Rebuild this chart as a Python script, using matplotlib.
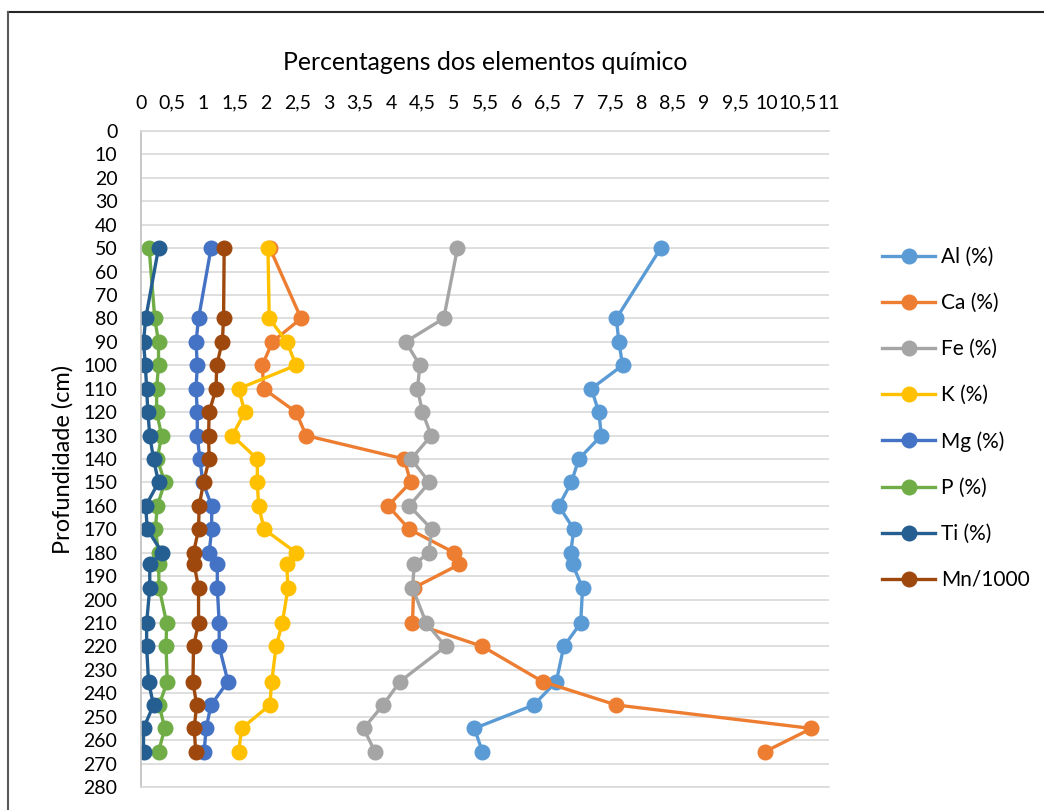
import matplotlib
matplotlib.use("Agg")
import matplotlib.pyplot as plt
from matplotlib.ticker import MultipleLocator, FuncFormatter
from matplotlib.lines import Line2D

plt.rcParams['font.family'] = ['Lato', 'DejaVu Sans']

# depth (cm) of each sample
depth = [50, 80, 90, 100, 110, 120, 130, 140, 150, 160,
         170, 180, 185, 195, 210, 220, 235, 245, 255, 265]

al = [8.31, 7.60, 7.64, 7.70, 7.20, 7.32, 7.36, 7.00, 6.88, 6.68,
      6.92, 6.87, 6.90, 7.06, 7.03, 6.76, 6.64, 6.28, 5.33, 5.46]
ca = [2.06, 2.56, 2.10, 1.94, 1.96, 2.48, 2.64, 4.21, 4.31, 3.95,
      4.29, 5.01, 5.09, 4.36, 4.34, 5.46, 6.42, 7.60, 10.72, 9.97]
fe = [5.06, 4.84, 4.23, 4.46, 4.42, 4.50, 4.64, 4.32, 4.61, 4.29,
      4.65, 4.60, 4.37, 4.34, 4.56, 4.87, 4.14, 3.87, 3.56, 3.74]
k = [2.03, 2.05, 2.33, 2.48, 1.56, 1.66, 1.46, 1.86, 1.86, 1.88,
     1.97, 2.48, 2.33, 2.35, 2.26, 2.16, 2.09, 2.06, 1.61, 1.56]
mg = [1.12, 0.92, 0.88, 0.90, 0.88, 0.90, 0.90, 0.94, 0.99, 1.13,
      1.13, 1.09, 1.22, 1.22, 1.25, 1.25, 1.39, 1.12, 1.04, 1.01]
p = [0.13, 0.22, 0.28, 0.28, 0.25, 0.25, 0.33, 0.26, 0.38, 0.26,
     0.23, 0.28, 0.28, 0.29, 0.41, 0.40, 0.42, 0.29, 0.38, 0.28]
ti = [0.28, 0.075, 0.04, 0.07, 0.09, 0.11, 0.14, 0.20, 0.28, 0.075,
      0.10, 0.34, 0.14, 0.14, 0.09, 0.09, 0.12, 0.20, 0.04, 0.04]
mn = [1.33, 1.32, 1.30, 1.21, 1.20, 1.09, 1.08, 1.09, 1.00, 0.93,
      0.92, 0.84, 0.85, 0.92, 0.92, 0.84, 0.83, 0.89, 0.85, 0.875]

labels = ['Al (%)', 'Ca (%)', 'Fe (%)', 'K (%)', 'Mg (%)', 'P (%)', 'Ti (%)', 'Mn/1000']
colors = ['#5B9BD5', '#ED7D31', '#A5A5A5', '#FFC000', '#4472C4', '#70AD47', '#255E91', '#9E480E']
series = [al, ca, fe, k, mg, p, ti, mn]

fig = plt.figure(figsize=[10.44, 8.1], dpi=100)
ax = fig.add_axes([141 / 1044, 1 - 787 / 810, (829 - 141) / 1044, (787 - 131) / 810])

for vals, lab, col in zip(series, labels, colors):
    ax.plot(vals, depth, color=col, lw=2.4, marker='o', ms=10.5, label=lab)

ax.set_xlim(0, 11)
ax.set_ylim(280, 0)
ax.xaxis.set_major_locator(MultipleLocator(0.5))
ax.yaxis.set_major_locator(MultipleLocator(10))
ax.xaxis.set_major_formatter(FuncFormatter(lambda v, pos: f"{v:g}".replace('.', ',')))
ax.xaxis.tick_top()
ax.tick_params(axis='x', length=0, pad=14, labelsize=14)
ax.tick_params(axis='y', length=0, pad=17, labelsize=14)
ax.yaxis.grid(True, color='#D9D9D9', lw=1.2)
ax.set_axisbelow(True)
for side in ['top', 'bottom']:
    ax.spines[side].set_color('#D9D9D9')
    ax.spines[side].set_linewidth(1.2)
ax.spines['right'].set_visible(False)
ax.spines['left'].set_color('#BFBFBF')
ax.spines['left'].set_linewidth(1.2)

ax.set_ylabel('Profundidade (cm)', fontsize=17, labelpad=7)
fig.text(485 / 1044, 1 - 63 / 810, 'Percentagens dos elementos químico',
         fontsize=17.8, ha='center', va='center')

fig.legend(loc='upper left', bbox_to_anchor=(882 / 1044, 1 - 247 / 810),
           frameon=False, fontsize=15, handlelength=2.55, handletextpad=0.3,
           labelspacing=1.25, borderpad=0, borderaxespad=0)

# outer chart border
fig.add_artist(Line2D([8 / 1044, 1], [1 - 12 / 810, 1 - 12 / 810], color='#262626', lw=1.5))
fig.add_artist(Line2D([8 / 1044, 8 / 1044], [0, 1 - 12 / 810], color='#595959', lw=1.5))

fig.savefig('out.png', dpi=100)
